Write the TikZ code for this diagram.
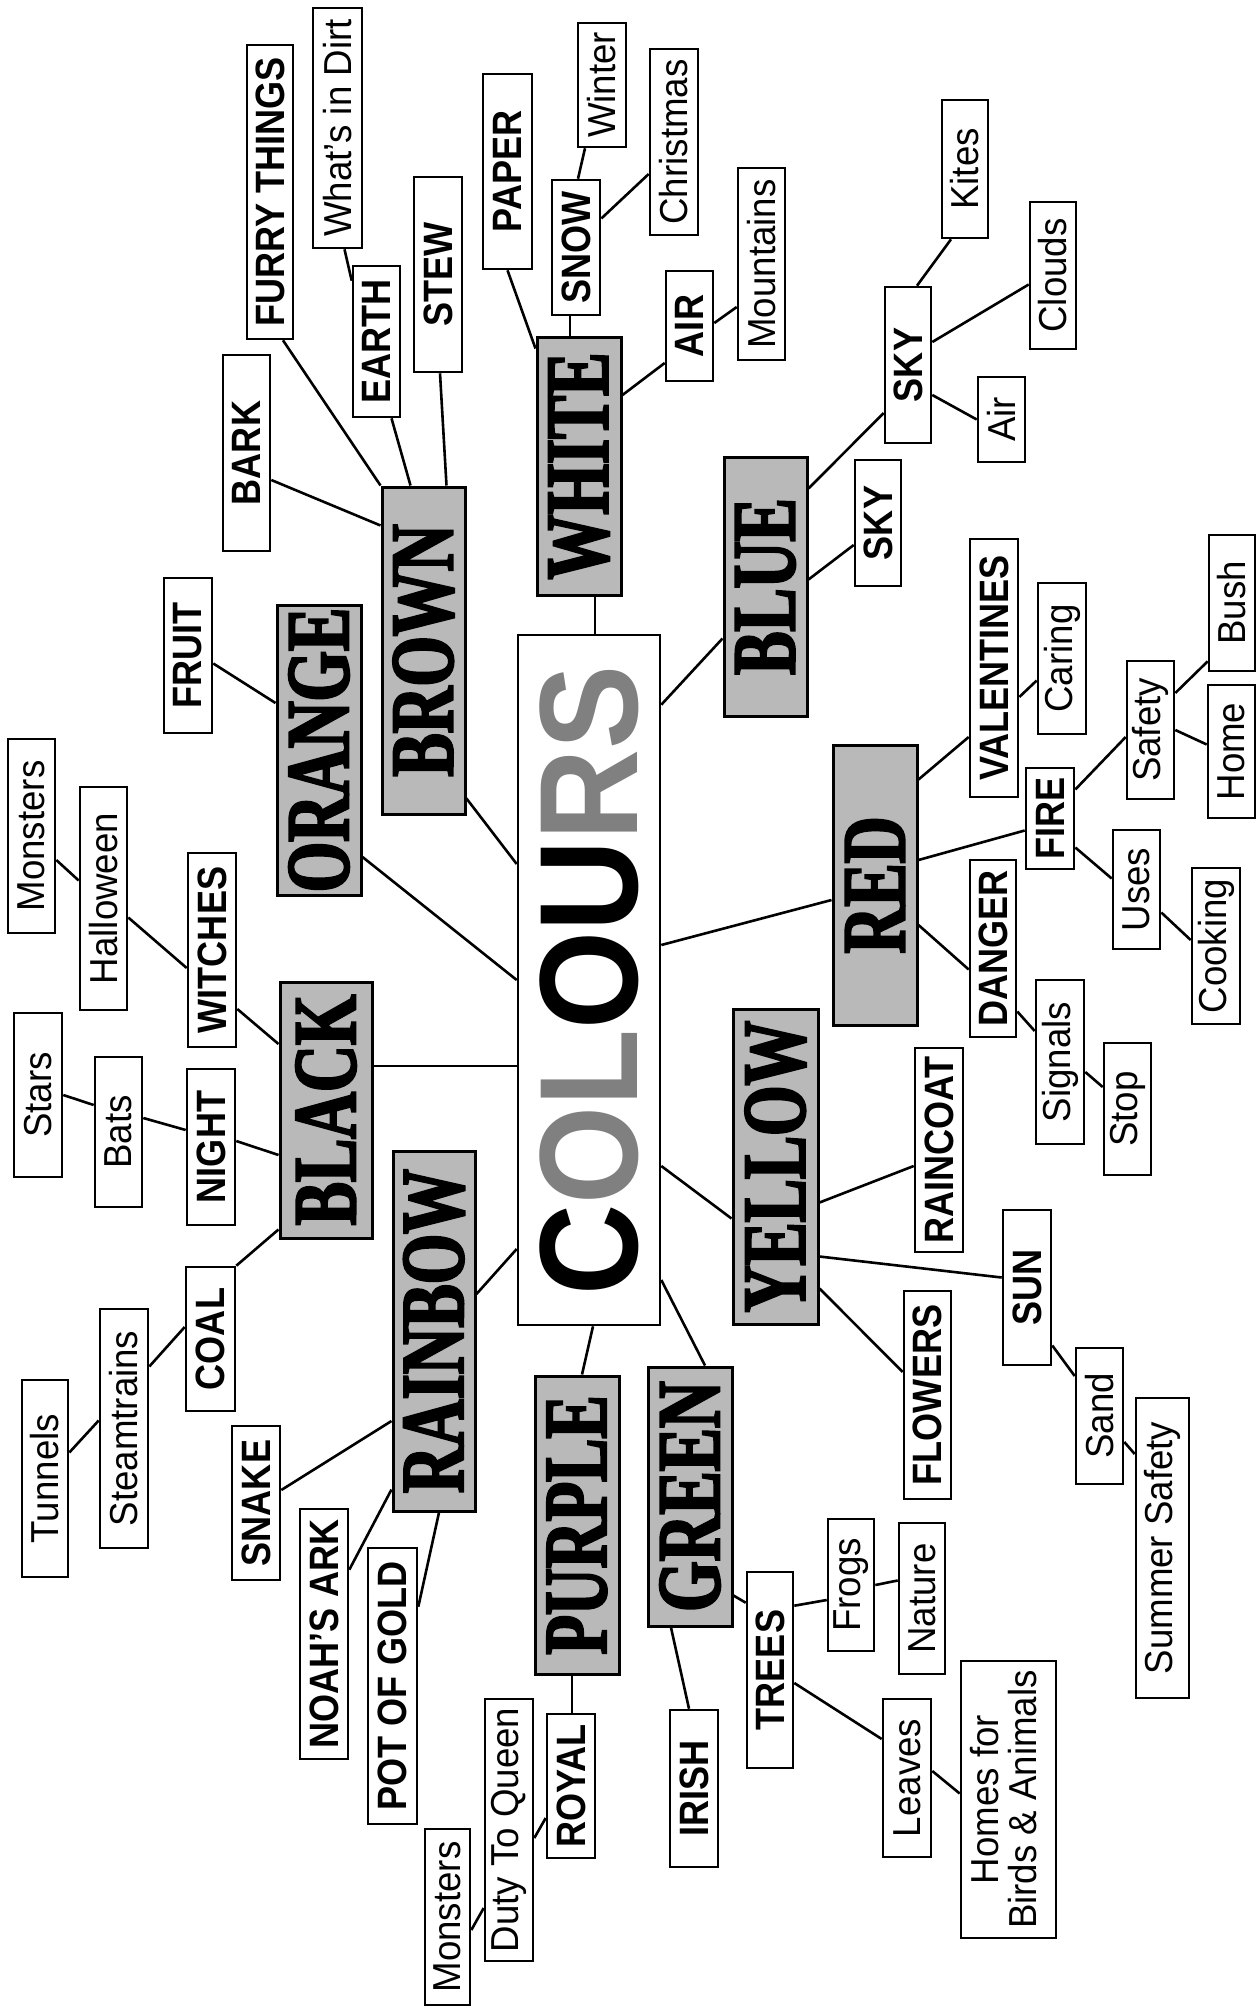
\documentclass[tikz,border=0pt]{standalone}
\usepackage{fontspec}
\setmainfont{Liberation Sans}
\newfontfamily\leaffont[FakeStretch=0.94]{Liberation Sans}
\newfontfamily\topicfont[FakeStretch=0.88]{Liberation Sans}
\newfontfamily\colourfont[FakeStretch=0.72,FakeBold=2.5]{Liberation Serif}
\newfontfamily\titlefont[FakeStretch=0.9]{Liberation Sans}

\begin{document}
\begin{tikzpicture}[
  x=1pt, y=-1pt,
  leaf/.style={rectangle, draw, line width=2.6pt, fill=white, inner sep=0pt,
               minimum width=48pt, font=\leaffont\fontsize{39}{44}\selectfont},
  topic/.style={leaf, font=\topicfont\bfseries\fontsize{41}{46}\selectfont},
  colour/.style={rectangle, draw, line width=3pt, fill=gray!55, inner sep=0pt,
                 minimum width=84pt, font=\colourfont\bfseries\fontsize{90}{92}\selectfont},
  link/.style={line width=2.6pt}]
  \useasboundingbox (0,0) rectangle (1258,2008);

  % centre
  \node[leaf, minimum width=142pt, minimum height=690pt] (colours) at (589,980)
    {\rotatebox{90}{\titlefont\bfseries\fontsize{140}{140}\selectfont
      C{\color{gray}O}{\color{gray}L}OU{\color{gray}R}{\color{gray}S}}};

  % colours
  \node[colour, minimum height=290pt] (orange) at (319,750) {\rotatebox{90}{ORANGE}};
  \node[colour, minimum width=83pt, minimum height=327pt] (brown) at (423.5,650.5) {\rotatebox{90}{BROWN}};
  \node[colour, minimum height=258pt] (white) at (579,466) {\rotatebox{90}{WHITE}};
  \node[colour, minimum width=83pt, minimum height=259pt] (blue) at (765.5,586.5) {\rotatebox{90}{BLUE}};
  \node[colour, minimum height=280pt] (red) at (875,885) {\rotatebox{90}{RED}};
  \node[colour, minimum width=85pt, minimum height=315pt] (yellow) at (775.5,1166.5) {\rotatebox{90}{YELLOW}};
  \node[colour, minimum height=259pt] (green) at (690,1496.5) {\rotatebox{90}{GREEN}};
  \node[colour, minimum height=298pt] (purple) at (577,1525) {\rotatebox{90}{PURPLE}};
  \node[colour, minimum width=82pt, minimum height=360pt] (rainbow) at (434,1331) {\rotatebox{90}{RAINBOW}};
  \node[colour, minimum width=92pt, minimum height=256pt] (black) at (326,1110) {\rotatebox{90}{BLACK}};

  % topics
  \node[topic, minimum width=47pt, minimum height=196pt] (bark) at (246.5,453) {\rotatebox{90}{BARK}};
  \node[topic, minimum width=46pt, minimum height=294pt] (furry) at (270,192) {\rotatebox{90}{FURRY THINGS}};
  \node[topic, minimum width=47pt, minimum height=151pt] (earth) at (376.5,341.5) {\rotatebox{90}{EARTH}};
  \node[topic, minimum height=195pt] (stew) at (438,274.5) {\rotatebox{90}{STEW}};
  \node[topic, minimum width=49pt, minimum height=195pt] (paper) at (507.5,171.5) {\rotatebox{90}{PAPER}};
  \node[topic, minimum height=135pt] (snow) at (576,247.5) {\rotatebox{90}{SNOW}};
  \node[topic, minimum width=47pt, minimum height=110pt] (air) at (689.5,326) {\rotatebox{90}{AIR}};
  \node[topic, minimum width=46pt, minimum height=156pt] (skyA) at (908,365) {\rotatebox{90}{SKY}};
  \node[topic, minimum width=46pt, minimum height=126pt] (skyB) at (878,523) {\rotatebox{90}{SKY}};
  \node[topic, minimum height=258pt] (valentines) at (994,668) {\rotatebox{90}{VALENTINES}};
  \node[topic, minimum height=101pt] (fire) at (1050,818.5) {\rotatebox{90}{FIRE}};
  \node[topic, minimum width=46pt, minimum height=177pt] (danger) at (993,948.5) {\rotatebox{90}{DANGER}};
  \node[topic, minimum height=204pt] (raincoat) at (939,1150) {\rotatebox{90}{RAINCOAT}};
  \node[topic, minimum height=155pt] (sun) at (1027,1287.5) {\rotatebox{90}{SUN}};
  \node[topic, minimum width=47pt, minimum height=208pt] (flowers) at (927.5,1395) {\rotatebox{90}{FLOWERS}};
  \node[topic, minimum width=46pt, minimum height=196pt] (trees) at (770,1670) {\rotatebox{90}{TREES}};
  \node[topic, minimum height=157pt] (irish) at (694,1788.5) {\rotatebox{90}{IRISH}};
  \node[topic, minimum height=144pt] (royal) at (571,1786) {\rotatebox{90}{ROYAL}};
  \node[topic, minimum width=49pt, minimum height=276pt] (potofgold) at (392.5,1686) {\rotatebox{90}{POT OF GOLD}};
  \node[topic, minimum height=250pt] (noahsark) at (324,1634) {\rotatebox{90}{NOAH’S ARK}};
  \node[topic, minimum height=154pt] (snake) at (256,1503) {\rotatebox{90}{SNAKE}};
  \node[topic, minimum width=49pt, minimum height=144pt] (coal) at (210.5,1339) {\rotatebox{90}{COAL}};
  \node[topic, minimum height=156pt] (night) at (211,1147) {\rotatebox{90}{NIGHT}};
  \node[topic, minimum height=194pt] (witches) at (212,950) {\rotatebox{90}{WITCHES}};
  \node[topic, minimum height=155pt] (fruit) at (188,655.5) {\rotatebox{90}{FRUIT}};

  % leaves
  \node[leaf, minimum width=49pt, minimum height=240pt] (dirt) at (337.5,128) {\rotatebox{90}{What’s in Dirt}};
  \node[leaf, minimum height=124pt] (winter) at (602,85) {\rotatebox{90}{Winter}};
  \node[leaf, minimum height=186pt] (christmas) at (674,142) {\rotatebox{90}{Christmas}};
  \node[leaf, minimum width=47pt, minimum height=192pt] (mountains) at (761.5,264) {\rotatebox{90}{Mountains}};
  \node[leaf, minimum width=46pt, minimum height=138pt] (kites) at (965,169) {\rotatebox{90}{Kites}};
  \node[leaf, minimum width=46pt, minimum height=147pt] (clouds) at (1053,275.5) {\rotatebox{90}{Clouds}};
  \node[leaf, minimum width=47pt, minimum height=85pt] (airB) at (1001.5,419.5) {\rotatebox{90}{Air}};
  \node[leaf, minimum height=151pt] (caring) at (1062,658.5) {\rotatebox{90}{Caring}};
  \node[leaf, minimum width=47pt, minimum height=138pt] (safety) at (1150.5,730) {\rotatebox{90}{Safety}};
  \node[leaf, minimum width=46pt, minimum height=136pt] (bush) at (1232,603) {\rotatebox{90}{Bush}};
  \node[leaf, minimum width=47pt, minimum height=133pt] (home) at (1231.5,751.5) {\rotatebox{90}{Home}};
  \node[leaf, minimum width=47pt, minimum height=119pt] (uses) at (1136.5,889.5) {\rotatebox{90}{Uses}};
  \node[leaf, minimum height=156pt] (cooking) at (1216,946) {\rotatebox{90}{Cooking}};
  \node[leaf, minimum height=164pt] (signals) at (1060,1062) {\rotatebox{90}{Signals}};
  \node[leaf, minimum width=47pt, minimum height=132pt] (stop) at (1127.5,1109) {\rotatebox{90}{Stop}};
  \node[leaf, minimum width=47pt, minimum height=136pt] (sand) at (1099.5,1416) {\rotatebox{90}{Sand}};
  \node[leaf, minimum width=53pt, minimum height=300pt] (summer) at (1162.5,1548) {\rotatebox{90}{Summer Safety}};
  \node[leaf, minimum width=46pt, minimum height=132pt] (frogs) at (851,1585) {\rotatebox{90}{Frogs}};
  \node[leaf, minimum width=46pt, minimum height=151pt] (nature) at (922,1598.5) {\rotatebox{90}{Nature}};
  \node[leaf, minimum height=158pt] (leaves) at (907,1778) {\rotatebox{90}{Leaves}};
  \node[leaf, minimum width=95pt, minimum height=277pt] (homes) at (1008.5,1799.5)
    {\rotatebox{90}{\fontsize{39}{33}\selectfont\begin{tabular}{@{}c@{}}Homes for\\Birds \& Animals\end{tabular}}};
  \node[leaf, minimum width=45pt, minimum height=176pt] (monstersB) at (447.5,1917) {\rotatebox{90}{Monsters}};
  \node[leaf, minimum height=262pt] (duty) at (509,1830) {\rotatebox{90}{Duty To Queen}};
  \node[leaf, minimum width=47pt, minimum height=194pt] (monstersA) at (31.5,836) {\rotatebox{90}{Monsters}};
  \node[leaf, minimum width=47pt, minimum height=223pt] (halloween) at (103.5,898.5) {\rotatebox{90}{Halloween}};
  \node[leaf, minimum height=164pt] (stars) at (38,1095) {\rotatebox{90}{Stars}};
  \node[leaf, minimum width=47pt, minimum height=150pt] (bats) at (118.5,1132) {\rotatebox{90}{Bats}};
  \node[leaf, minimum height=239pt] (steamtrains) at (124,1428.5) {\rotatebox{90}{Steamtrains}};
  \node[leaf, minimum width=46pt, minimum height=197pt] (tunnels) at (45,1478.5) {\rotatebox{90}{Tunnels}};

  % brown and white branches
  \draw[link] ([yshift=-27pt]bark.east) -- ([yshift=-40pt]brown.north west);
  \draw[link] ([xshift=13pt]furry.south) -- (brown.north west);
  \draw[link] ([xshift=15pt]earth.south) -- ([xshift=-13pt]brown.north);
  \draw[link] ([xshift=7pt]dirt.south) -- ([yshift=-16pt]earth.north west);
  \draw[link] ([xshift=2pt]stew.south) -- ([xshift=23pt]brown.north);
  \draw[link] (paper.south) -- ([yshift=-13pt]white.north west);
  \draw[link] ([xshift=-6pt]snow.south) -- ([xshift=-9pt]white.north);
  \draw[link] ([xshift=-17pt]winter.south) -- ([xshift=2pt]snow.north);
  \draw[link] ([yshift=-32pt]christmas.west) -- ([yshift=29pt]snow.east);
  \draw[link] ([yshift=-43pt]mountains.west) -- ([yshift=3pt]air.east);
  \draw[link] ([yshift=-37pt]air.west) -- ([yshift=71pt]white.east);
  \draw[link] ([xshift=16pt]white.south) -- ([xshift=6pt]colours.north);

  % blue
  \draw[link] ([yshift=-71pt]colours.north east) -- ([yshift=-52pt]blue.west);
  \draw[link] ([yshift=7pt]blue.east) -- ([yshift=-22pt]skyB.west);
  \draw[link] ([yshift=-33pt]blue.north east) -- ([yshift=-48pt]skyA.west);
  \draw[link] ([xshift=9pt]skyA.north) -- ([xshift=-14pt]kites.south);
  \draw[link] ([yshift=23pt]skyA.east) -- ([yshift=-9pt]clouds.west);
  \draw[link] ([yshift=-30pt]skyA.east) -- (airB.west);

  % red
  \draw[link] ([yshift=35pt]colours.east) -- ([yshift=-15pt]red.west);
  \draw[link] ([yshift=-36pt]red.north east) -- ([yshift=-69pt]valentines.west);
  \draw[link] ([yshift=-29pt]valentines.east) -- ([yshift=-22pt]caring.west);
  \draw[link] ([yshift=25pt]red.east) -- ([yshift=-12pt]fire.west);
  \draw[link] ([yshift=29pt]fire.east) -- ([yshift=-7pt]safety.west);
  \draw[link] ([yshift=37pt]safety.east) -- ([yshift=11pt]bush.south west);
  \draw[link] (safety.east) -- ([yshift=7pt]home.west);
  \draw[link] ([yshift=-29pt]fire.east) -- ([yshift=11pt]uses.west);
  \draw[link] ([yshift=-23pt]uses.east) -- ([yshift=6pt]cooking.west);
  \draw[link] ([yshift=-40pt]red.east) -- ([yshift=-21pt]danger.west);
  \draw[link] ([yshift=-63pt]danger.east) -- ([yshift=31pt]signals.west);
  \draw[link] ([yshift=-10pt]signals.east) -- ([yshift=22pt]stop.west);

  % yellow
  \draw[link] ([yshift=-186pt]colours.east) -- ([yshift=-52pt]yellow.west);
  \draw[link] ([yshift=-36pt]yellow.east) -- ([yshift=-16pt]raincoat.west);
  \draw[link] ([yshift=-90pt]yellow.east) -- ([yshift=10pt]sun.west);
  \draw[link] ([yshift=-122pt]yellow.east) -- ([yshift=23pt]flowers.west);
  \draw[link] ([yshift=-58pt]sun.east) -- ([yshift=40pt]sand.west);
  \draw[link] ([yshift=-26pt]sand.east) -- ([yshift=94pt]summer.west);

  % green and purple
  \draw[link] ([yshift=-300pt]colours.east) -- ([xshift=15pt]green.north);
  \draw[link] ([xshift=4pt]colours.south) -- ([xshift=5pt]purple.north);
  \draw[link] ([xshift=-5pt]purple.south) -- ([xshift=1pt]royal.north);
  \draw[link] ([yshift=-32pt]royal.west) -- ([yshift=-8pt]duty.east);
  \draw[link] ([yshift=-78pt]duty.west) -- ([yshift=-13pt]monstersB.east);
  \draw[link] ([xshift=-19pt]green.south) -- ([xshift=-5pt]irish.north);
  \draw[link] ([yshift=32pt]green.south east) -- ([yshift=-32pt]trees.north west);
  \draw[link] ([yshift=-35pt]trees.north east) -- ([yshift=-15pt]frogs.west);
  \draw[link] (frogs.east) -- ([yshift=18pt]nature.west);
  \draw[link] ([yshift=-13pt]trees.east) -- ([yshift=39pt]leaves.west);
  \draw[link] ([yshift=7pt]leaves.east) -- ([yshift=6pt]homes.west);

  % rainbow
  \draw[link] ([yshift=-269pt]colours.west) -- ([yshift=37pt]rainbow.east);
  \draw[link] ([yshift=-90pt]rainbow.west) -- ([yshift=13pt]snake.east);
  \draw[link] ([yshift=23pt]rainbow.south west) -- ([yshift=-62pt]noahsark.north east);
  \draw[link] ([xshift=5pt]rainbow.south) -- ([yshift=-60pt]potofgold.north east);

  % black, orange, brown
  \draw[link] ([yshift=44pt]black.east) -- ([yshift=-86pt]colours.west);
  \draw[link] ([yshift=-107pt]orange.east) -- (colours.west);
  \draw[link] ([yshift=17pt]brown.south east) -- ([yshift=116pt]colours.west);
  \draw[link] ([yshift=-8pt]fruit.east) -- ([yshift=47pt]orange.west);
  \draw[link] ([yshift=-24pt]monstersA.east) -- ([yshift=18pt]halloween.west);
  \draw[link] ([yshift=-19pt]halloween.east) -- ([yshift=-18pt]witches.west);
  \draw[link] ([yshift=-59pt]witches.east) -- ([yshift=66pt]black.west);
  \draw[link] (stars.east) -- ([yshift=27pt]bats.west);
  \draw[link] ([yshift=14pt]bats.east) -- ([yshift=17pt]night.west);
  \draw[link] ([yshift=6pt]night.east) -- ([yshift=-45pt]black.west);
  \draw[link] ([yshift=10pt]black.south west) -- (coal.north east);
  \draw[link] ([yshift=12pt]coal.west) -- ([yshift=62pt]steamtrains.east);
  \draw[link] ([yshift=8pt]steamtrains.west) -- ([yshift=26pt]tunnels.east);
\end{tikzpicture}
\end{document}
